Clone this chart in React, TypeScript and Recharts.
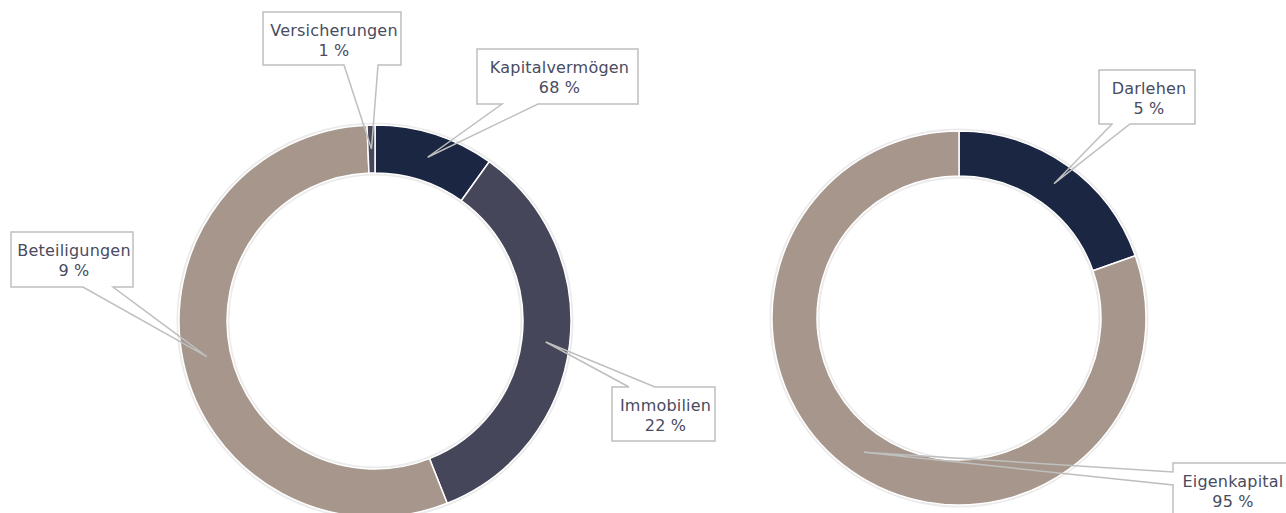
import { Cell, Pie, PieChart } from "recharts";

// Vermögensstruktur (left ring) – slice sizes as drawn, label texts as printed
const ASSET_CATEGORIES = ["Kapitalvermögen", "Immobilien", "Beteiligungen", "Versicherungen"];
const ASSET_SHARES = [9.9, 34.1, 55.35, 0.65];
const ASSET_LABELS = ["68 %", "22 %", "9 %", "1 %"];

// Finanzierung (right ring)
const FUNDING_CATEGORIES = ["Darlehen", "Eigenkapital"];
const FUNDING_SHARES = [19.6, 80.4];
const FUNDING_LABELS = ["5 %", "95 %"];

const NAVY = "#1b2642";
const SLATE = "#454659";
const TAUPE = "#a6968b";
const ASSET_COLORS = [NAVY, SLATE, TAUPE, SLATE];
const FUNDING_COLORS = [NAVY, TAUPE];

const TEXT = "#494b60";
const CALLOUT_STROKE = "#bfbfbf";
const RING_EDGE = "#ebebeb";
const FONT = "'DejaVu Sans', sans-serif";
const RADIAN = Math.PI / 180;

type Callout = {
  x: number;
  y: number;
  w: number;
  h: number;
  side: "top" | "bottom" | "left";
  a: number;
  b: number;
  dx?: number;
};

// where the callout boxes sit (the wedge tip comes from the slice itself)
const CALLOUTS: Record<string, Callout> = {
  Kapitalvermögen: { x: 477, y: 49, w: 161, h: 55, side: "bottom", a: 502, b: 538 },
  Immobilien: { x: 612, y: 387, w: 103, h: 54, side: "top", a: 629, b: 655 },
  Beteiligungen: { x: 11, y: 232, w: 122, h: 55, side: "bottom", a: 83, b: 113 },
  Versicherungen: { x: 263, y: 12, w: 138, h: 53, side: "bottom", a: 344, b: 378 },
  Darlehen: { x: 1099, y: 70, w: 96, h: 54, side: "bottom", a: 1112, b: 1130 },
  Eigenkapital: { x: 1173, y: 463, w: 130, h: 55, side: "left", a: 472, b: 485, dx: -7 },
};

const assetData = ASSET_CATEGORIES.map((name, i) => ({
  name,
  value: ASSET_SHARES[i],
  label: ASSET_LABELS[i],
}));
const fundingData = FUNDING_CATEGORIES.map((name, i) => ({
  name,
  value: FUNDING_SHARES[i],
  label: FUNDING_LABELS[i],
}));

function calloutPath(c: Callout, tx: number, ty: number) {
  const r = c.x + c.w;
  const b = c.y + c.h;
  if (c.side === "top") {
    return `M${c.x},${c.y} L${c.a},${c.y} L${tx},${ty} L${c.b},${c.y} L${r},${c.y} L${r},${b} L${c.x},${b} Z`;
  }
  if (c.side === "left") {
    return `M${c.x},${c.y} L${r},${c.y} L${r},${b} L${c.x},${b} L${c.x},${c.b} L${tx},${ty} L${c.x},${c.a} Z`;
  }
  return `M${c.x},${c.y} L${r},${c.y} L${r},${b} L${c.b},${b} L${tx},${ty} L${c.a},${b} L${c.x},${b} Z`;
}

function makeLabel(data: { name: string; label: string }[]) {
  return (props: any) => {
    const { cx, cy, midAngle, innerRadius, outerRadius, index } = props;
    const entry = data[index];
    const c = CALLOUTS[entry.name];
    const r = (innerRadius + outerRadius) / 2;
    const tx = cx + r * Math.cos(-midAngle * RADIAN);
    const ty = cy + r * Math.sin(-midAngle * RADIAN);
    const mid = c.x + c.w / 2 + 2 + (c.dx ?? 0);
    return (
      <g key={entry.name}>
        <path d={calloutPath(c, tx, ty)} fill="none" stroke={CALLOUT_STROKE} strokeWidth={1.5} />
        <text x={mid} y={c.y + 24} textAnchor="middle" fill={TEXT} fontSize={16} letterSpacing={0.2} fontFamily={FONT}>
          {entry.name}
        </text>
        <text x={mid} y={c.y + 44} textAnchor="middle" fill={TEXT} fontSize={16} letterSpacing={0.2} fontFamily={FONT}>
          {entry.label}
        </text>
      </g>
    );
  };
}

const RING = [{ name: "ring", value: 1 }];

export default function App() {
  return (
    <div style={{ position: "absolute", left: 0, top: 0, width: 1286, height: 513, overflow: "hidden", background: "#fff" }}>
      <PieChart width={1286} height={513} margin={{ top: 0, right: 0, bottom: 0, left: 0 }}>
        <Pie
          data={RING}
          dataKey="value"
          cx={375}
          cy={321}
          innerRadius={145.5}
          outerRadius={198.5}
          fill={RING_EDGE}
          stroke="none"
          isAnimationActive={false}
        />
        <Pie
          data={assetData}
          dataKey="value"
          nameKey="name"
          cx={375}
          cy={321}
          innerRadius={148}
          outerRadius={196}
          startAngle={90}
          endAngle={-270}
          stroke="#fff"
          strokeWidth={1.5}
          labelLine={false}
          label={makeLabel(assetData)}
          isAnimationActive={false}
        >
          {assetData.map((d, i) => (
            <Cell key={d.name} fill={ASSET_COLORS[i]} />
          ))}
        </Pie>
        <Pie
          data={RING}
          dataKey="value"
          cx={959}
          cy={318}
          innerRadius={139.5}
          outerRadius={189.5}
          fill={RING_EDGE}
          stroke="none"
          isAnimationActive={false}
        />
        <Pie
          data={fundingData}
          dataKey="value"
          nameKey="name"
          cx={959}
          cy={318}
          innerRadius={142}
          outerRadius={187}
          startAngle={90}
          endAngle={-270}
          stroke="#fff"
          strokeWidth={1.5}
          labelLine={false}
          label={makeLabel(fundingData)}
          isAnimationActive={false}
        >
          {fundingData.map((d, i) => (
            <Cell key={d.name} fill={FUNDING_COLORS[i]} />
          ))}
        </Pie>
      </PieChart>
    </div>
  );
}
